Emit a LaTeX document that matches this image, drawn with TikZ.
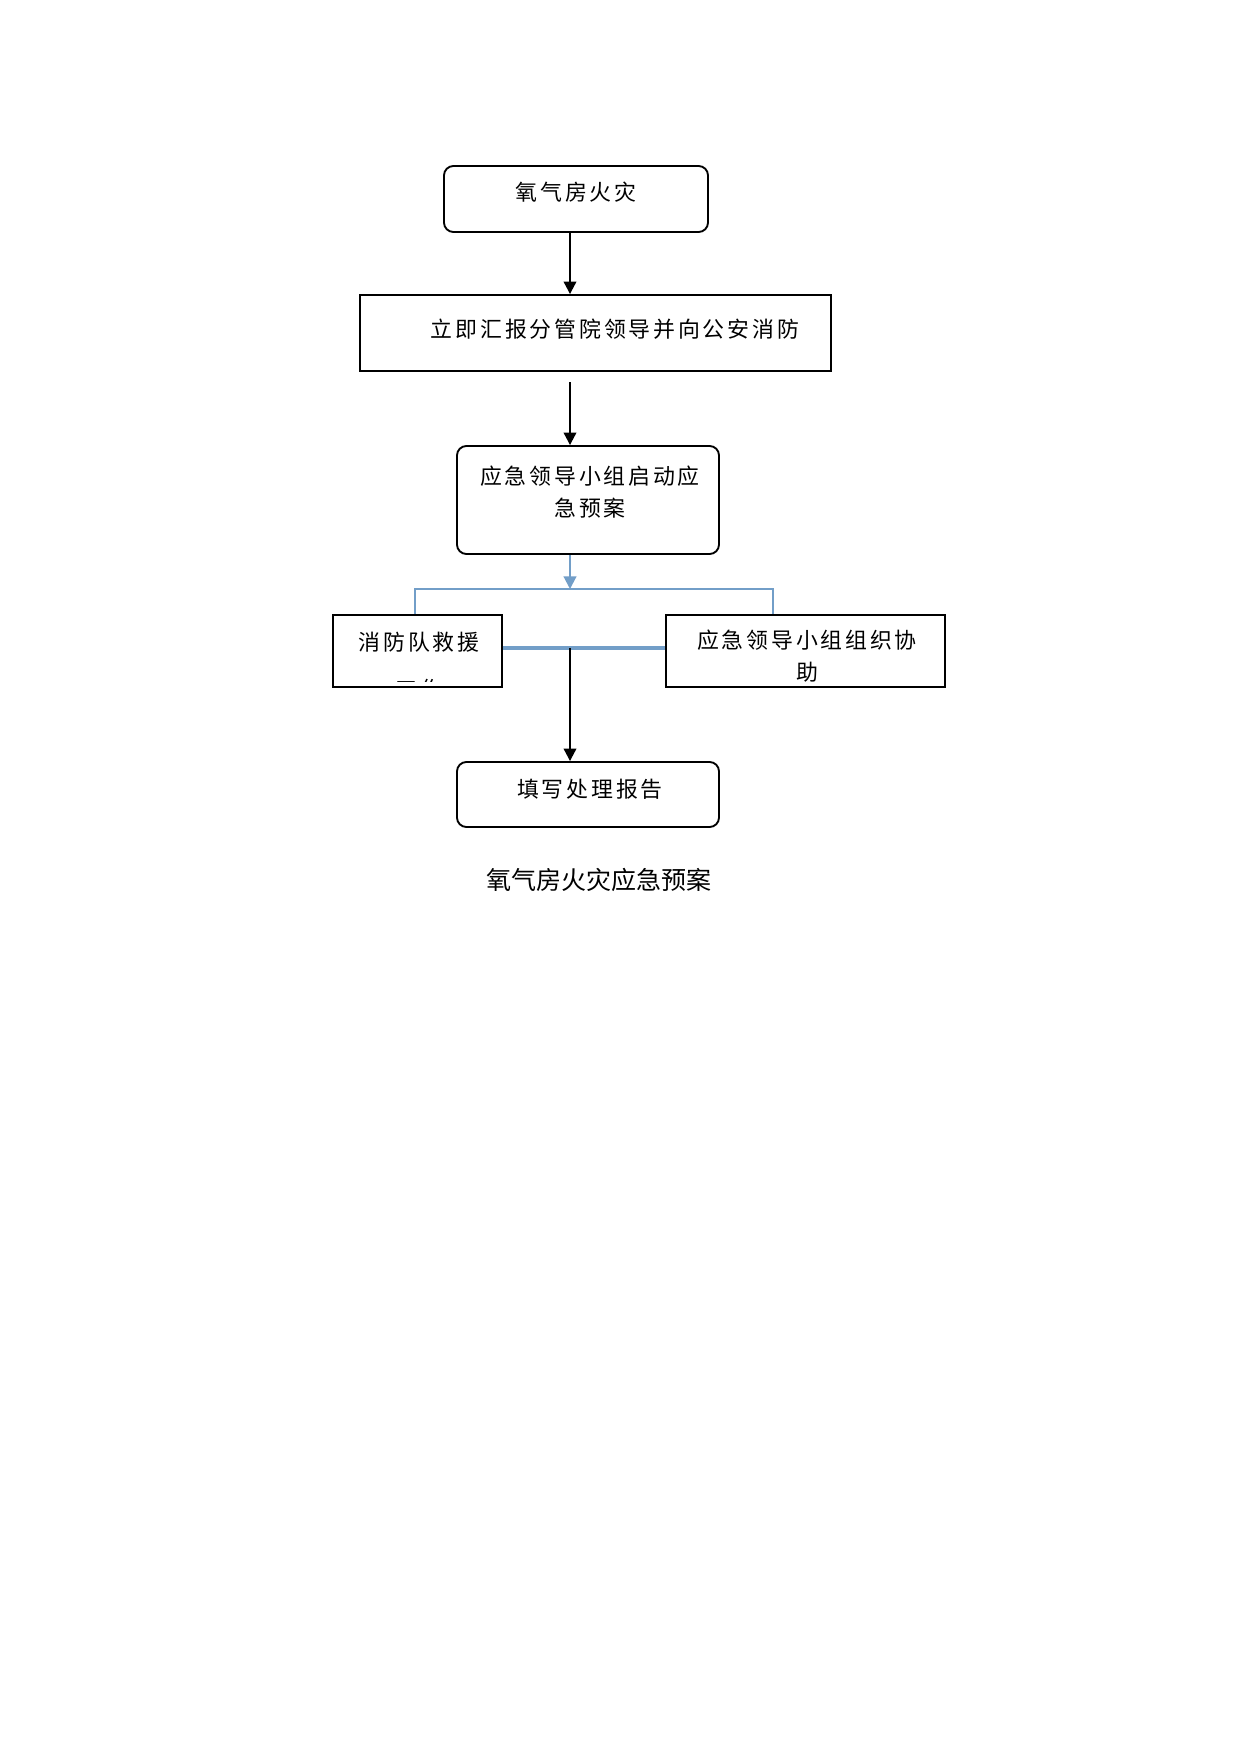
\documentclass[tikz,border=0pt]{standalone}
\usepackage{fontspec}
\newfontfamily\cjk{Noto Sans CJK SC}[LetterSpace=13]
\newfontfamily\cjkcap{Noto Sans CJK SC}
\usetikzlibrary{arrows.meta}
\definecolor{linkblue}{RGB}{114,158,200}
\begin{document}
\begin{tikzpicture}[x=0.4797pt,y=-0.4797pt,
  sz/.style 2 args={minimum width=#1*0.4797pt, minimum height=#2*0.4797pt},
  rbox/.style={draw=black, line width=0.9pt, rounded corners=4.5pt, inner sep=0pt},
  sbox/.style={draw=black, line width=0.9pt, inner sep=0pt},
  txt/.style={inner sep=0pt, font=\fontsize{10.5}{15.4}\selectfont\cjk, align=center},
  captxt/.style={inner sep=0pt, font=\fontsize{12}{15}\selectfont\cjkcap},
  arr/.style={draw=black, line width=1pt, -{Triangle[width=6pt,length=6pt]}},
  barr/.style={draw=linkblue, line width=1pt, -{Triangle[width=6pt,length=6pt]}},
  bline/.style={draw=linkblue, line width=1pt},
  bthick/.style={draw=linkblue, line width=1.5pt}]
\useasboundingbox[fill=white] (0,0) rectangle (1241,1754);

% boxes
\node[rbox, sz={264}{66}] (b1) at (576,199) {};
\node[sbox, sz={471}{76}] (b2) at (595.5,333) {};
\node[rbox, sz={262}{108}] (b3) at (588,500) {};
\node[sbox, sz={169}{72}] (b4) at (417.5,651) {};
\node[sbox, sz={279}{72}] (b5) at (805.5,651) {};
\node[rbox, sz={262}{65}] (b6) at (588,794.5) {};

% texts
\node[txt] (t1) at (576,192) {氧气房火灾};
\node[txt] (t2) at (615,329) {立即汇报分管院领导并向公安消防};
\node[txt] (t3) at (590,492) {应急领导小组启动应\\急预案};
\node[txt] (t4) at (419,642) {消防队救援};
\begin{scope}
  \clip (334,616) rectangle (501,681);
  \node[txt] (t4b) at (419,689) {工作};
\end{scope}
\node[txt] (t5) at (807,656) {应急领导小组组织协\\助};
\node[txt] (t6) at (590,789) {填写处理报告};
\node[captxt] (caption) at (599,880) {氧气房火灾应急预案};

% connectors
\coordinate (ax) at (570,0);
\coordinate (a2s) at (570,382);
\coordinate (bj) at (570,589);
\coordinate (bl) at (415,589);
\coordinate (br) at (773,589);
\coordinate (mid) at (570,648);

\draw[arr] (b1.south -| ax) -- (b2.north -| ax);
\draw[arr] (a2s) -- (b3.north -| ax);
\draw[barr] (b3.south -| ax) -- (bj);
\draw[bline] (b4.north -| bl) -- (bl) -- (br) -- (b5.north -| br);
\draw[bthick] (b4.east |- mid) -- (b5.west |- mid);
\draw[arr] (mid) -- (b6.north -| ax);
\end{tikzpicture}
\end{document}
